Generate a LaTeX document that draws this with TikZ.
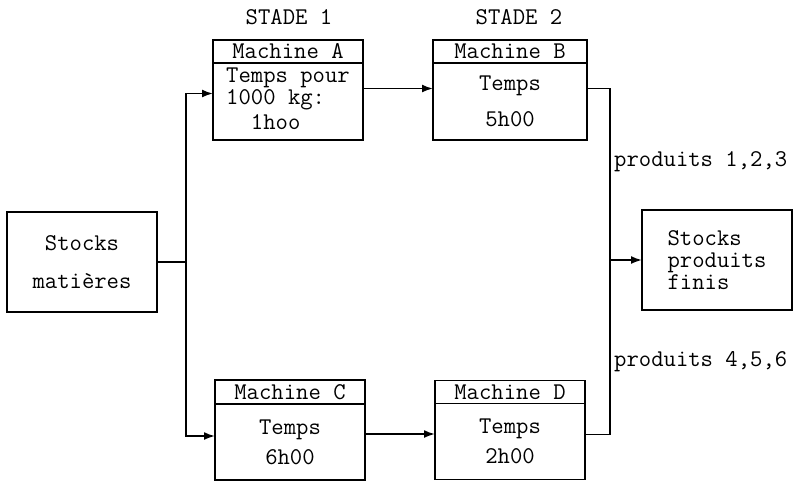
\documentclass[tikz,border=0pt]{standalone}
\usepackage{tikz}
\usetikzlibrary{positioning,arrows.meta,calc}
\tikzset{
  box/.style  ={draw, rectangle, line width=1.8pt, align=center, inner sep=0pt, outer sep=0pt, minimum width=150pt, minimum height=100pt},
  hdr/.style  ={draw, rectangle, line width=1.8pt, align=center, inner sep=0pt, outer sep=0pt, minimum width=150pt, minimum height=23pt},
  body/.style ={draw, rectangle, line width=1.8pt, align=center, inner sep=0pt, outer sep=0pt, minimum width=150pt, minimum height=77pt},
  lbl/.style  ={inner sep=0pt, anchor=west},
  lin/.style  ={line width=1.8pt},
  arr/.style  ={-{Latex[length=11pt, width=8pt]}, line width=1.8pt},
}

\begin{document}
\begin{tikzpicture}[x=1pt, y=-1pt, font=\fontsize{24}{22}\selectfont\ttfamily]
  \useasboundingbox (0,0) rectangle (796,483);
  \node (st1) at (289,17) {STADE 1};
  \node (st2) at (519,17) {STADE 2};

  \node[box] (sm) at (82,262) {Stocks\\[16pt]matières};
  \node[hdr] (ma) at (288,51.5) {Machine A};
  \node[body, below=0pt of ma, align=left] (ta) {\begin{tabular}{@{}l@{}}Temps pour\\1000 kg:\\[3pt]\hphantom{00}1hoo\end{tabular}};
  \node[hdr, minimum width=154pt, right=70pt of ma] (mb) {Machine B};
  \node[body, minimum width=154pt, below=0pt of mb] (tb) {Temps\\[14pt]5h00};
  \node[hdr, minimum height=24pt] (mc) at (290,392) {Machine C};
  \node[body, minimum height=76pt, below=0pt of mc] (tc) {Temps\\[8pt]6h00};
  \node[hdr, right=70pt of mc] (md) {Machine D};
  \node[body, minimum height=76pt, below=0pt of md] (td) {Temps\\[8pt]2h00};
  \node[box, align=flush left] (spf) at (717,260) {Stocks\\produits\\finis};
  \node[lbl] (p123) at (614,162) {produits 1,2,3};
  \node[lbl] (p456) at (614,362) {produits 4,5,6};

  \coordinate[right=29pt of sm.east] (split);
  \coordinate[right=23pt of tb.east] (join);
  \draw[lin] (sm.east) -- (split);
  \draw[arr] (split) |- ([yshift=8pt]ta.west);
  \draw[arr] (split) |- ([yshift=6pt]tc.west);
  \draw[arr] ([yshift=13pt]ta.east) -- ([yshift=13pt]ta.east -| tb.west);
  \draw[arr] ([yshift=8pt]tc.east) -- ([yshift=8pt]tc.east -| td.west);
  \draw[lin] ([yshift=13pt]tb.east) -| (join) |- ([yshift=7pt]td.east);
  \draw[arr] (join |- spf.west) -- (spf.west);
\end{tikzpicture}
\end{document}
